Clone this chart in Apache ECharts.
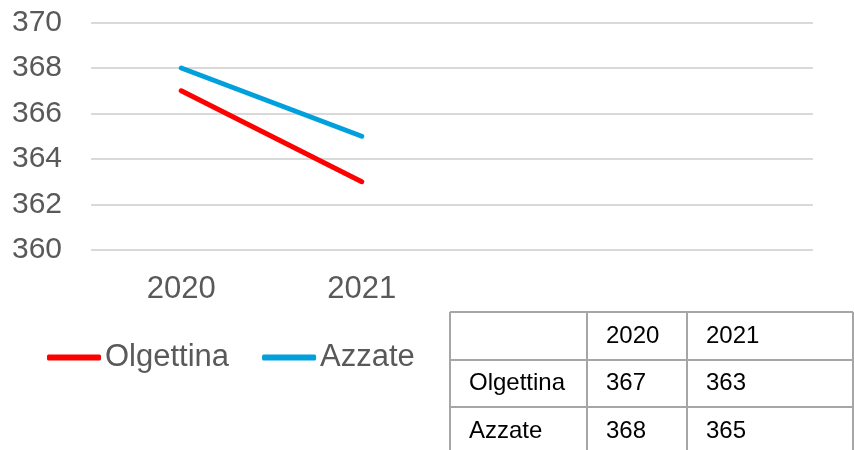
<!DOCTYPE html>
<html>
<head>
<meta charset="utf-8">
<script src="https://cdn.jsdelivr.net/npm/echarts@6/dist/echarts.min.js"></script>
<style>html,body{margin:0;padding:0;background:#fff}#c{width:854px;height:450px}</style>
</head>
<body>
<div id="c"></div>
<script>
var categories = ['2020', '2021', '', ''];
var seriesNames = ['Olgettina', 'Azzate'];
var olgettina = [367, 363];
var azzate = [368, 365];
var yMin = 360, yMax = 370, yStep = 2;
var tableYears = ['2020', '2021'];

var chart = echarts.init(document.getElementById('c'));
var font = '"Liberation Sans", Arial, sans-serif';

// table built from data arrays
var colX = [450, 587, 687, 853];
var rowY = [312, 360, 407, 455];
var tableRows = [[''].concat(tableYears)];
[olgettina, azzate].forEach(function (vals, i) {
  tableRows.push([seriesNames[i]].concat(vals.map(String)));
});
var graphics = [];
var bc = '#a6a6a6';
rowY.forEach(function (y) {
  graphics.push({type: 'line', shape: {x1: colX[0], y1: y, x2: colX[3], y2: y}, style: {stroke: bc, lineWidth: 2}});
});
colX.forEach(function (x) {
  graphics.push({type: 'line', shape: {x1: x, y1: rowY[0], x2: x, y2: rowY[3]}, style: {stroke: bc, lineWidth: 2}});
});
tableRows.forEach(function (row, r) {
  row.forEach(function (t, c) {
    graphics.push({type: 'text', x: colX[c] + 19, y: (rowY[r] + rowY[r + 1]) / 2,
      style: {text: t, fill: '#000', font: '24px ' + font, verticalAlign: 'middle', align: 'left'}});
  });
});

chart.setOption({
  animation: false,
  textStyle: {fontFamily: font},
  grid: {left: 91, right: 41, top: 22.5, bottom: 200, outerBoundsMode: 'none', containLabel: false},
  xAxis: {
    type: 'category', data: categories, boundaryGap: true,
    axisLine: {show: false}, axisTick: {show: false},
    axisLabel: {fontSize: 31, color: '#595959', margin: 24, interval: 0, fontFamily: font}
  },
  yAxis: {
    type: 'value', min: yMin, max: yMax, interval: yStep,
    axisLine: {show: false}, axisTick: {show: false},
    axisLabel: {fontSize: 30, color: '#595959', margin: 29, fontFamily: font},
    splitLine: {lineStyle: {color: '#d9d9d9', width: 2}}
  },
  legend: {
    left: 42, top: 337, itemWidth: 54, itemHeight: 6, itemGap: 33, icon: 'roundRect',
    textStyle: {fontSize: 31, color: '#595959', fontFamily: font, padding: [0, 0, 0, -1]},
    data: seriesNames
  },
  series: [
    {name: seriesNames[0], type: 'line', data: olgettina, symbol: 'none', color: '#ff0000',
      lineStyle: {width: 5, color: '#ff0000', cap: 'round'}},
    {name: seriesNames[1], type: 'line', data: azzate, symbol: 'none', color: '#00a0dc',
      lineStyle: {width: 5, color: '#00a0dc', cap: 'round'}}
  ],
  graphic: graphics
});
</script>
</body>
</html>
